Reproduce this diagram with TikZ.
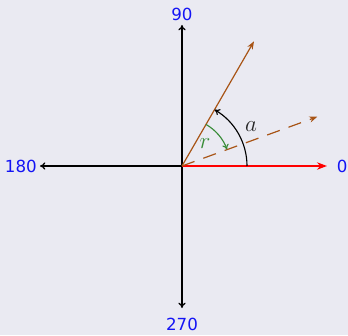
\documentclass[tikz,border=0pt]{standalone}
\usepackage{fontspec}
\newfontfamily\lblfont{DejaVu Sans}
\usetikzlibrary{arrows.meta}
\definecolor{bgc}{RGB}{234,234,242}
\definecolor{brn}{RGB}{168,84,22}
\definecolor{grn}{RGB}{56,140,56}
\definecolor{lblblue}{RGB}{20,20,245}
\begin{document}
\begin{tikzpicture}[x=0.75pt,y=0.75pt,
  axis/.style={line width=0.95pt,-{To[length=4pt,width=5.5pt]}},
  lbl/.style={text=lblblue,font=\lblfont\fontsize{12.5}{14}\selectfont,inner sep=0pt},
  mlbl/.style={font=\fontsize{18}{20}\selectfont,inner sep=0pt},
  vec/.style={line width=0.9pt,brn,-{Stealth[length=6pt,width=4.5pt]}}]
\fill[bgc] (-182,-169) rectangle (166,166);
\useasboundingbox (-182,-169) rectangle (166,166);
\coordinate (O) at (0,0);
\coordinate (N) at (0,141);
\coordinate (S) at (0,-142);
\coordinate (W) at (-142,0);
\coordinate (E) at (145,0);
\coordinate (P) at (60:144);
\coordinate (Q) at (20:144);
\draw[axis] (O) -- (N);
\draw[axis] (O) -- (S);
\draw[axis] (O) -- (W);
\draw[red,line width=1.6pt,-{Stealth[length=7.5pt,width=5.5pt]}] (O) -- (E);
\draw[vec] (O) -- (P);
\draw[vec,dash pattern=on 10 off 7] (O) -- (Q);
\draw[line width=0.85pt,-{To[length=4pt,width=5pt]}] (65,0) arc[start angle=0,end angle=60,radius=65];
\draw[grn,line width=0.85pt,-{To[length=4pt,width=5pt]}] (60:48) arc[start angle=60,end angle=20,radius=48];
\node[mlbl,text=black!85] (la) at (69,39) {$a$};
\node[mlbl,text=grn] (lr) at (23,22) {$r$};
\node[lbl] (l90) at (0,152) {90};
\node[lbl] (l270) at (0,-158) {270};
\node[lbl,anchor=east] (l180) at (-145,0) {180};
\node[lbl,anchor=west] (l0) at (154.5,0) {0};
\end{tikzpicture}
\end{document}
